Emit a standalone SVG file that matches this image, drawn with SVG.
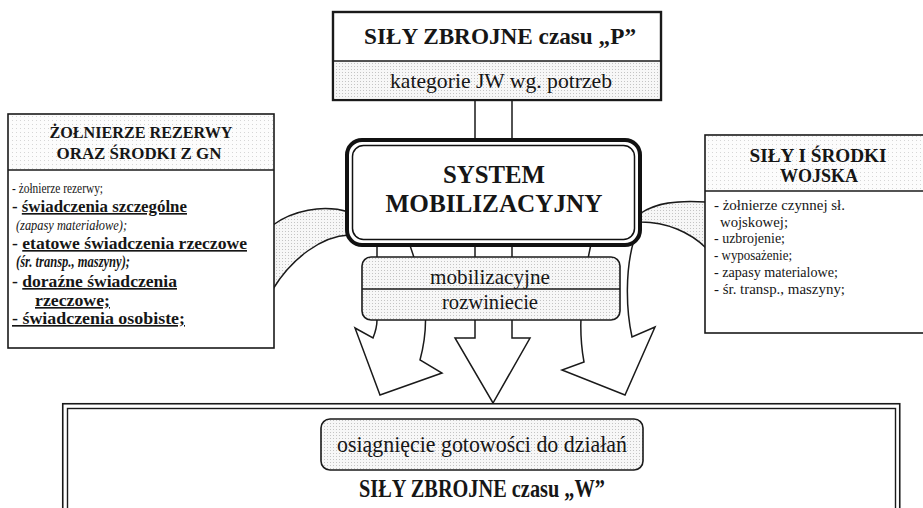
<svg xmlns="http://www.w3.org/2000/svg" width="923" height="508" viewBox="0 0 923 508">
  <defs>
    <pattern id="dots" width="3" height="3" patternUnits="userSpaceOnUse">
      <rect width="3" height="3" fill="#f7f7f7"/>
      <rect width="1" height="1" fill="#c4c4c4"/>
    </pattern>
    <pattern id="dotsLight" width="4" height="4" patternUnits="userSpaceOnUse">
      <rect width="4" height="4" fill="#fcfcfc"/>
      <rect width="1" height="1" fill="#d6d6d6"/>
    </pattern>
    <style>
      .t { font-family: "Liberation Serif", "Times New Roman", serif; fill: #161616; }
      .b { font-weight: bold; }
      .i { font-style: italic; }
      .u { text-decoration: underline; }
      .c { text-anchor: middle; }
      .box { stroke: #1a1a1a; stroke-width: 1.6; fill: #fff; }
      .ln { stroke: #1a1a1a; stroke-width: 1.6; fill: none; }
      .arrow { stroke: #1a1a1a; stroke-width: 1.5; fill: #fff; stroke-linejoin: miter; }
      .band { stroke: #1a1a1a; stroke-width: 1.5; fill: url(#dots); }
    </style>
  </defs>
  <rect width="923" height="508" fill="#fff"/>

  <!-- connectors: side bands into the system box and the three block arrows -->
  <g id="connectors">
    <path class="band" d="M273,225 C292,211 322,204 349,212 L349,235 C322,236 292,258 273,289 Z"/>
    <path class="band" d="M641,213 C656,203 676,200 706,202 L706,248 C690,232 666,222 641,222 Z"/>
    <path class="arrow" d="M377,240 L377,320 C377,328 375,333 373,338 L355,328 L380,395 L442,373 L420,360 C428,330 430,300 408,240 Z"/>
    <path class="arrow" d="M475,100 L475,338 L455,338 L493,403 L530,338 L512,338 L512,100 Z"/>
    <path class="arrow" d="M592,240 C585,270 576,320 584,362 L562,370 L625,395 L655,327 L632,337 C626,310 625,270 634,240 Z"/>
  </g>

  <!-- peace-time armed forces -->
  <g id="top-box">
    <rect x="333" y="12" width="328" height="88" fill="#fff" stroke="#1a1a1a" stroke-width="2.4"/>
    <rect x="334.5" y="61" width="325" height="37.8" fill="url(#dots)"/>
    <line class="ln" x1="333" y1="61" x2="661" y2="61" stroke-width="2"/>
    <text class="t b c" x="500" y="44" font-size="23" textLength="272" lengthAdjust="spacingAndGlyphs">SIŁY ZBROJNE czasu „P”</text>
    <text class="t c" x="501" y="88" font-size="21" textLength="222" lengthAdjust="spacingAndGlyphs">kategorie  JW wg. potrzeb</text>
  </g>

  <!-- mobilization system -->
  <g id="system-box">
    <rect x="347" y="140" width="293" height="105" rx="15" fill="#fff" stroke="#111" stroke-width="4"/>
    <rect x="352.5" y="145.5" width="282" height="94" rx="11" fill="none" stroke="#111" stroke-width="1.5"/>
    <text class="t b c" x="494" y="183" font-size="25" textLength="102" lengthAdjust="spacingAndGlyphs">SYSTEM</text>
    <text class="t b c" x="494" y="212" font-size="25" textLength="217" lengthAdjust="spacingAndGlyphs">MOBILIZACYJNY</text>
  </g>

  <g id="mob-box">
    <rect x="362" y="257" width="258" height="63" rx="9" fill="url(#dots)" stroke="#1a1a1a" stroke-width="1.6"/>
    <line class="ln" x1="362" y1="289" x2="620" y2="289"/>
    <text class="t c" x="490" y="284" font-size="22" textLength="120" lengthAdjust="spacingAndGlyphs">mobilizacyjne</text>
    <text class="t c" x="490" y="309" font-size="22" textLength="96" lengthAdjust="spacingAndGlyphs">rozwiniecie</text>
  </g>

  <!-- reserve soldiers and national economy resources -->
  <g id="left-box">
    <rect class="box" x="8" y="114" width="266" height="234"/>
    <rect x="9" y="115" width="264" height="55" fill="url(#dotsLight)"/>
    <line class="ln" x1="8" y1="170" x2="274" y2="170"/>
    <text class="t b c" x="141" y="138" font-size="16" textLength="183" lengthAdjust="spacingAndGlyphs">ŻOŁNIERZE REZERWY</text>
    <text class="t b c" x="139" y="159" font-size="16" textLength="165" lengthAdjust="spacingAndGlyphs">ORAZ ŚRODKI Z GN</text>
    <text class="t" x="12" y="193" font-size="15" textLength="91" lengthAdjust="spacingAndGlyphs">- żołnierze rezerwy;</text>
    <text class="t b" x="12" y="212" font-size="16.5" textLength="175" lengthAdjust="spacingAndGlyphs">- <tspan class="u">świadczenia szczególne</tspan></text>
    <text class="t i" x="16" y="230" font-size="15.5" textLength="111" lengthAdjust="spacingAndGlyphs">(zapasy materiałowe);</text>
    <text class="t b" x="12" y="249" font-size="16.5" textLength="235" lengthAdjust="spacingAndGlyphs">- <tspan class="u">etatowe świadczenia rzeczowe</tspan></text>
    <text class="t b i" x="16" y="267" font-size="16" textLength="114" lengthAdjust="spacingAndGlyphs">(śr. transp., maszyny);</text>
    <text class="t b" x="12" y="287" font-size="16.5" textLength="165" lengthAdjust="spacingAndGlyphs">- <tspan class="u">doraźne świadczenia</tspan></text>
    <text class="t b u" x="35" y="306" font-size="16.5" textLength="75" lengthAdjust="spacingAndGlyphs">rzeczowe;</text>
    <text class="t b u" x="12" y="324" font-size="16.5" textLength="173" lengthAdjust="spacingAndGlyphs">- świadczenia osobiste;</text>
  </g>

  <!-- army forces and resources -->
  <g id="right-box">
    <rect class="box" x="705" y="135" width="225" height="198"/>
    <rect x="706" y="136" width="223" height="55" fill="url(#dotsLight)"/>
    <line class="ln" x1="705" y1="191" x2="930" y2="191"/>
    <text class="t b c" x="818" y="162" font-size="18" textLength="137" lengthAdjust="spacingAndGlyphs">SIŁY I ŚRODKI</text>
    <text class="t b c" x="819" y="182" font-size="18" textLength="78" lengthAdjust="spacingAndGlyphs">WOJSKA</text>
    <text class="t" x="714" y="210" font-size="14.5" textLength="131" lengthAdjust="spacingAndGlyphs">- żołnierze czynnej sł.</text>
    <text class="t" x="720" y="226.5" font-size="14.5" textLength="68" lengthAdjust="spacingAndGlyphs">wojskowej;</text>
    <text class="t" x="714" y="243" font-size="14.5" textLength="71" lengthAdjust="spacingAndGlyphs">- uzbrojenie;</text>
    <text class="t" x="714" y="260" font-size="14.5" textLength="78" lengthAdjust="spacingAndGlyphs">- wyposażenie;</text>
    <text class="t" x="714" y="277" font-size="14.5" textLength="124" lengthAdjust="spacingAndGlyphs">- zapasy materialowe;</text>
    <text class="t" x="714" y="293.5" font-size="14.5" textLength="131" lengthAdjust="spacingAndGlyphs">- śr. transp., maszyny;</text>
  </g>

  <!-- war-time armed forces -->
  <g id="bottom-box">
    <rect x="62.75" y="403.75" width="837" height="130" fill="#fff" stroke="#1a1a1a" stroke-width="1.6"/>
    <rect x="67.5" y="408.5" width="828" height="120" fill="none" stroke="#1a1a1a" stroke-width="1.4"/>
    <rect x="321" y="419" width="322" height="51" rx="9" fill="url(#dots)" stroke="#1a1a1a" stroke-width="1.6"/>
    <text class="t c" x="482" y="452" font-size="24" textLength="290" lengthAdjust="spacingAndGlyphs">osiągnięcie gotowości do działań</text>
    <text class="t b c" x="482" y="497" font-size="25" textLength="246" lengthAdjust="spacingAndGlyphs">SIŁY ZBROJNE czasu „W”</text>
  </g>
</svg>
